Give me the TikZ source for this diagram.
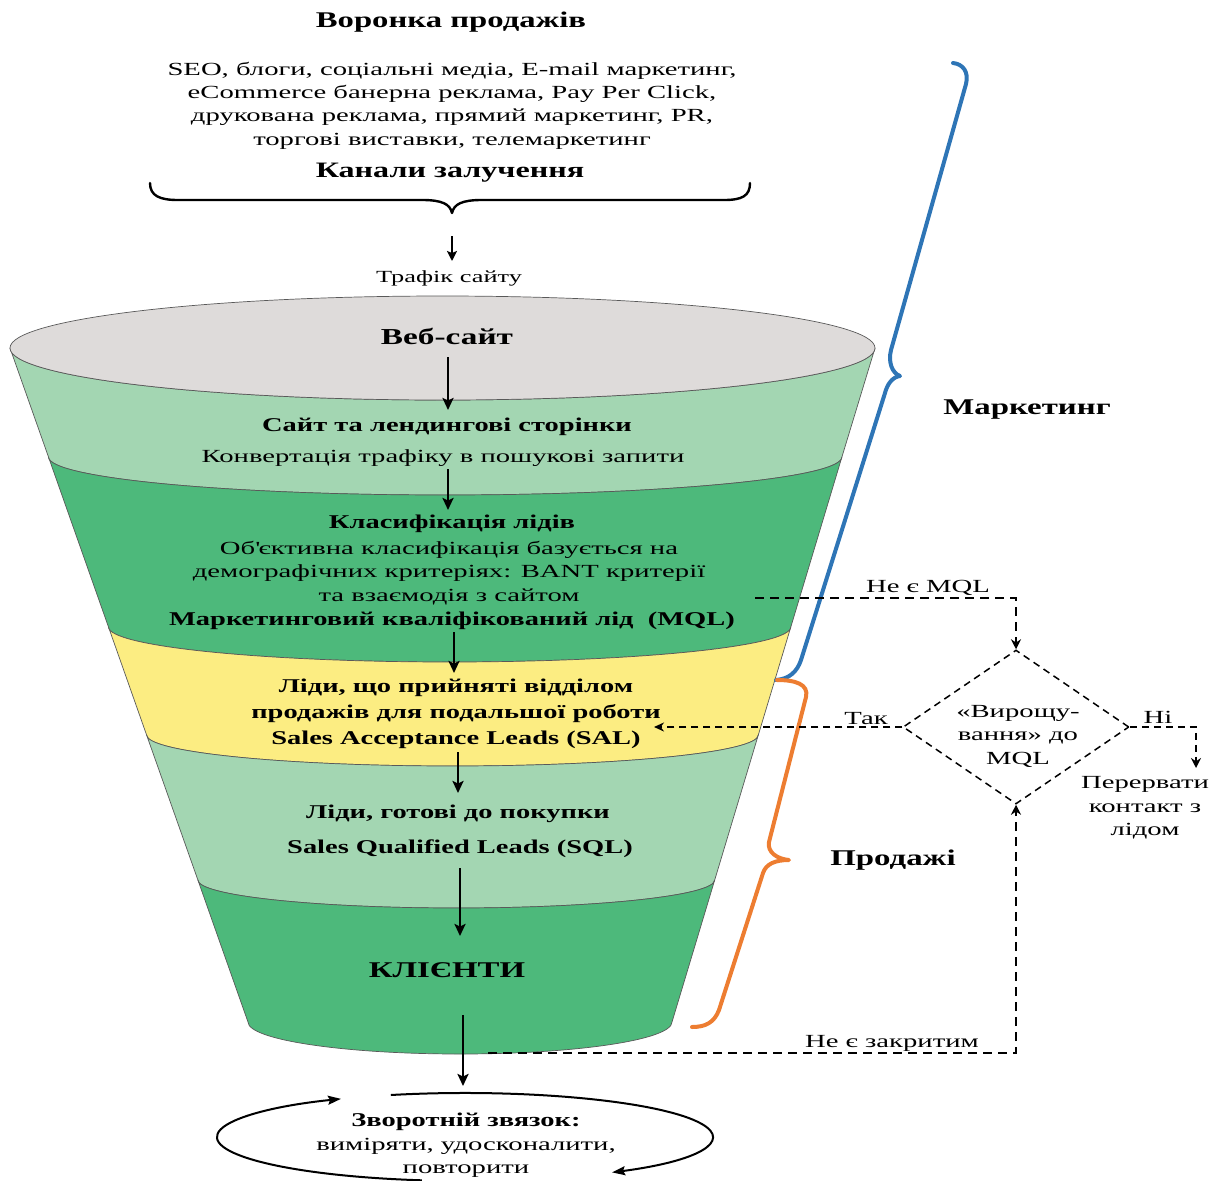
\documentclass[tikz,border=0pt]{standalone}
\usepackage{fontspec}
\setmainfont{Liberation Serif}[UprightFeatures={FakeStretch=1.55},BoldFeatures={FakeStretch=1.46}]
\usetikzlibrary{arrows.meta,shapes.geometric}
\definecolor{fgrey}{HTML}{DEDBDA}
\definecolor{flg}{HTML}{A3D6B2}
\definecolor{fdg}{HTML}{4DB97B}
\definecolor{fyel}{HTML}{FCED82}
\definecolor{bblue}{HTML}{2E75B6}
\definecolor{borange}{HTML}{ED7D31}
\tikzset{
  layer/.style={draw=black!65, line width=0.7pt},
  txt/.style={inner sep=0pt, align=center, yshift=-2.5pt, font=\fontsize{18.5}{23.4}\selectfont},
  btxt/.style={inner sep=0pt, align=center, yshift=-2.5pt, font=\fontsize{19.5}{26}\selectfont\bfseries},
  arr/.style={line width=2.8pt, -{Stealth[length=12pt,width=11pt,inset=2.5pt]}},
  dshA/.style={line width=2.5pt, dash pattern=on 9pt off 6pt, -{Stealth[length=10pt,width=10pt]}},
  dshB/.style={line width=1.6pt, dash pattern=on 7pt off 5pt, -{Stealth[length=10pt,width=9pt]}},
  fbarr/.style={line width=2pt, -{Stealth[length=13pt,width=9pt,inset=2pt]}},
  bracepath/.style={line width=#1, line cap=round, line join=round},
}
\begin{document}
\begin{tikzpicture}[x=1pt,y=-1pt]
\useasboundingbox (0,0) rectangle (1224,1181);

% ---------- header ----------
\node[btxt, font=\fontsize{22.4}{26}\selectfont\bfseries] (title) at (451,20) {Воронка продажів};
\node[txt] (chan) at (452,103) {SEO, блоги, соціальні медіа, E-mail маркетинг,\\eCommerce банерна реклама, Pay Per Click,\\друкована реклама, прямий маркетинг, PR,\\торгові виставки, телемаркетинг};
\node[btxt, font=\fontsize{22}{26}\selectfont\bfseries] (kan) at (450,170) {Канали залучення};
\coordinate (btip) at (452,213);
\draw[bracepath=2.4pt] (150,183) .. controls (150,196) and (160,200) .. (178,200) -- (422,200) .. controls (442,200) and (450,204) .. (btip) .. controls (454,204) and (462,200) .. (482,200) -- (724,200) .. controls (742,200) and (750,196) .. (750,183);
\node[txt, font=\fontsize{17}{20}\selectfont] (traf) at (449,276) {Трафік сайту};
\coordinate (t1) at (452,236);
\coordinate (t2) at (452,261);
\draw[line width=2.8pt, -{Stealth[length=10pt,width=10pt,inset=2pt]}] (t1) -- (t2);

% ---------- funnel layers ----------
\path[layer, fill=flg] (10,348) arc[start angle=180,end angle=0,x radius=432.5,y radius=52] -- (841.9,457) arc[start angle=0,end angle=180,x radius=396.7,y radius=38] -- cycle;
\path[layer, fill=fdg] (48.5,457) arc[start angle=180,end angle=0,x radius=396.7,y radius=38] -- (790.8,627) arc[start angle=0,end angle=180,x radius=341.15,y radius=35] -- cycle;
\path[layer, fill=fyel] (108.5,627) arc[start angle=180,end angle=0,x radius=341.15,y radius=35] -- (758.3,735) arc[start angle=0,end angle=180,x radius=305.85,y radius=31] -- cycle;
\path[layer, fill=flg] (146.6,735) arc[start angle=180,end angle=0,x radius=305.85,y radius=31] -- (714.7,880) arc[start angle=0,end angle=180,x radius=258.4,y radius=28] -- cycle;
\path[layer, fill=fdg] (197.9,880) arc[start angle=180,end angle=0,x radius=258.4,y radius=28] -- (672,1022) arc[start angle=0,end angle=180,x radius=212,y radius=32] -- cycle;
\path[layer, fill=fgrey] (442.5,348) ellipse[x radius=432.5,y radius=52];

% ---------- funnel texts ----------
\node[btxt, font=\fontsize{22.8}{26}\selectfont\bfseries] (web) at (447,334) {Веб-сайт};
\node[btxt] (site) at (447,424) {Сайт та лендингові сторінки};
\node[txt] (conv) at (443,456) {Конвертація трафіку в пошукові запити};
\node[btxt] (cls) at (452,521) {Класифікація лідів};
\node[txt, font=\fontsize{18.5}{23.5}\selectfont] (obj) at (449,570.5) {Об\textquotesingle єктивна класифікація базується на\\демографічних критеріях: BANT критерії\\та взаємодія з сайтом};
\node[btxt] (mql) at (452,618) {Маркетинговий кваліфікований лід\ \ (MQL)};
\node[btxt] (sal) at (456,711) {Ліди, що прийняті відділом\\продажів для подальшої роботи\\Sales Acceptance Leads (SAL)};
\node[btxt] (sql1) at (458,811) {Ліди, готові до покупки};
\node[btxt] (sql2) at (460,846) {Sales Qualified Leads (SQL)};
\node[btxt, font=\fontsize{22.5}{26}\selectfont\bfseries] (cli) at (447,968) {КЛІЄНТИ};

% ---------- funnel arrows ----------
\coordinate (a1s) at (448,357); \coordinate (a1e) at (448,410);
\coordinate (a2s) at (448,469); \coordinate (a2e) at (448,510);
\coordinate (a3s) at (454,632); \coordinate (a3e) at (454,673);
\coordinate (a4s) at (458,752); \coordinate (a4e) at (458,793);
\coordinate (a5s) at (460,868); \coordinate (a5e) at (460,936);
\coordinate (a6s) at (463,1015); \coordinate (a6e) at (463,1086);
\draw[arr] (a1s) -- (a1e);
\draw[arr] (a2s) -- (a2e);
\draw[arr] (a3s) -- (a3e);
\draw[arr] (a4s) -- (a4e);
\draw[arr] (a5s) -- (a5e);
\draw[arr] (a6s) -- (a6e);

% ---------- feedback ----------
\node[txt] (fb) at (466,1143) {\textbf{\fontsize{19.5}{23}\selectfont Зворотній звязок:}\\виміряти, удосконалити,\\повторити};
\draw[fbarr] (390.8,1095) arc[start angle=-107.4,end angle=53.6,x radius=248,y radius=44];
\draw[fbarr] (421.9,1180.3) arc[start angle=100,end angle=240,x radius=248,y radius=44];

% ---------- braces ----------
\draw[bblue, bracepath=4pt] (953,63) .. controls (963,64) and (969,72) .. (966,84) -- (891,350) .. controls (888,362) and (892,373) .. (900,376) .. controls (892,377) and (887,385) .. (885,393) -- (801,660) .. controls (797,672) and (789,679) .. (776,680);
\draw[borange, bracepath=4pt] (777,680) .. controls (795,680) and (809,684) .. (806,697) -- (769,842) .. controls (767,852) and (777,859) .. (789,860) .. controls (775,860) and (766,864) .. (763,873) -- (719,1010) .. controls (714,1023) and (705,1027) .. (692,1027);
\node[btxt, font=\fontsize{22.5}{25}\selectfont\bfseries] (mark) at (1027,407) {Маркетинг};
\node[btxt, font=\fontsize{22.5}{26}\selectfont\bfseries] (prod) at (893,858) {Продажі};

% ---------- decision ----------
\node[draw, diamond, line width=1.5pt, dash pattern=on 7pt off 5pt, minimum width=226pt, minimum height=154pt, inner sep=0pt] (dia) at (1016,727) {};
\node[txt, font=\fontsize{18.5}{23.5}\selectfont] (diat) at (1018,733.5) {«Вирощу-\\вання» до\\MQL};
\node[txt] (nemql) at (928,585) {Не є MQL};
\node[txt] (tak) at (866,716) {Так};
\node[txt] (ni) at (1158,715) {Ні};
\node[txt] (stop) at (1145,805.5) {Перервати\\контакт з\\лідом};
\node[txt] (necl) at (892,1041) {Не є закритим};

\coordinate (m1) at (755,598);
\coordinate (sal2) at (654,727);
\coordinate (st1) at (1196,768);
\coordinate (k1) at (488,1053);
\draw[dshA] (m1) -| (dia.north);
\draw[dshB] (dia.west) -- (sal2);
\draw[dshA, line width=2.2pt, dash pattern=on 7pt off 5pt] (dia.east) -| (st1);
\draw[dshA] (k1) -| (dia.south);
\end{tikzpicture}
\end{document}
